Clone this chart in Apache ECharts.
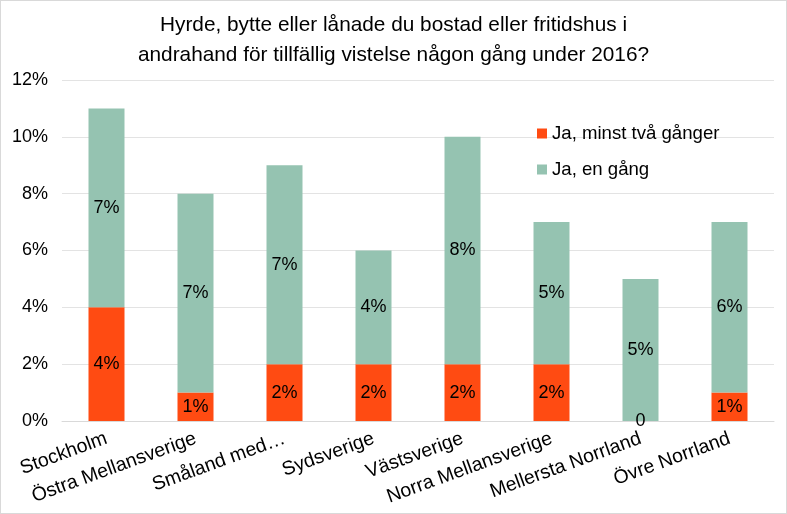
<!DOCTYPE html>
<html><head><meta charset="utf-8">
<script src="https://cdn.jsdelivr.net/npm/echarts@6/dist/echarts.min.js"></script>
<style>html,body{margin:0;padding:0;background:#fff}#c{width:785px;height:512px;border:1px solid #d9d9d9}</style>
</head><body><div id="c"></div>
<script>
const categories = ["Stockholm","Östra Mellansverige","Småland med…","Sydsverige","Västsverige","Norra Mellansverige","Mellersta Norrland","Övre Norrland"];
const seriesNames = ["Ja, minst två gånger","Ja, en gång"];
const minstTva = [4,1,2,2,2,2,0,1];
const enGang = [7,7,7,4,8,5,5,6];
const yTicks = [0,2,4,6,8,10,12];

const chart = echarts.init(document.getElementById('c'));
const font = 'Liberation Sans, Arial, sans-serif';
chart.setOption({
  animation:false,
  title:{text:'Hyrde, bytte eller lånade du bostad eller fritidshus i\nandrahand för tillfällig vistelse någon gång under 2016?',
    left:'center', top:4, textStyle:{fontFamily:font,fontWeight:'normal',fontSize:20.8,color:'#000',lineHeight:30}},
  legend:{orient:'vertical', left:531, top:118, itemGap:17, itemWidth:10, itemHeight:10, icon:'rect',
    textStyle:{fontFamily:font,fontSize:18.6,color:'#000'}, data:seriesNames},
  grid:{left:61, right:12, top:79, bottom:92},
  xAxis:{type:'category', data:categories,
    axisLine:{lineStyle:{color:'#d9d9d9'}}, axisTick:{show:false},
    axisLabel:{rotate:20, interval:0, margin:17, fontFamily:font, fontSize:19.5, color:'#000'}},
  yAxis:{type:'value', min:yTicks[0], max:yTicks[yTicks.length-1], interval:2,
    axisLine:{show:false}, axisTick:{show:false},
    splitLine:{lineStyle:{color:'#e3e3e3'}},
    axisLabel:{formatter:v=>v+'%', margin:14, fontFamily:font, fontSize:18, color:'#000'}},
  series:[
    {name:seriesNames[0], type:'bar', stack:'a', barWidth:36, data:minstTva,
      itemStyle:{color:'#FF4B12'},
      label:{show:true, position:'inside', fontFamily:font, fontSize:18, color:'#000',
        formatter:p=>p.value===0?'0':p.value+'%'}},
    {name:seriesNames[1], type:'bar', stack:'a', barWidth:36, data:enGang,
      itemStyle:{color:'#95C3B1'},
      label:{show:true, position:'inside', fontFamily:font, fontSize:18, color:'#000',
        formatter:p=>p.value+'%'}}
  ]
});
</script></body></html>
